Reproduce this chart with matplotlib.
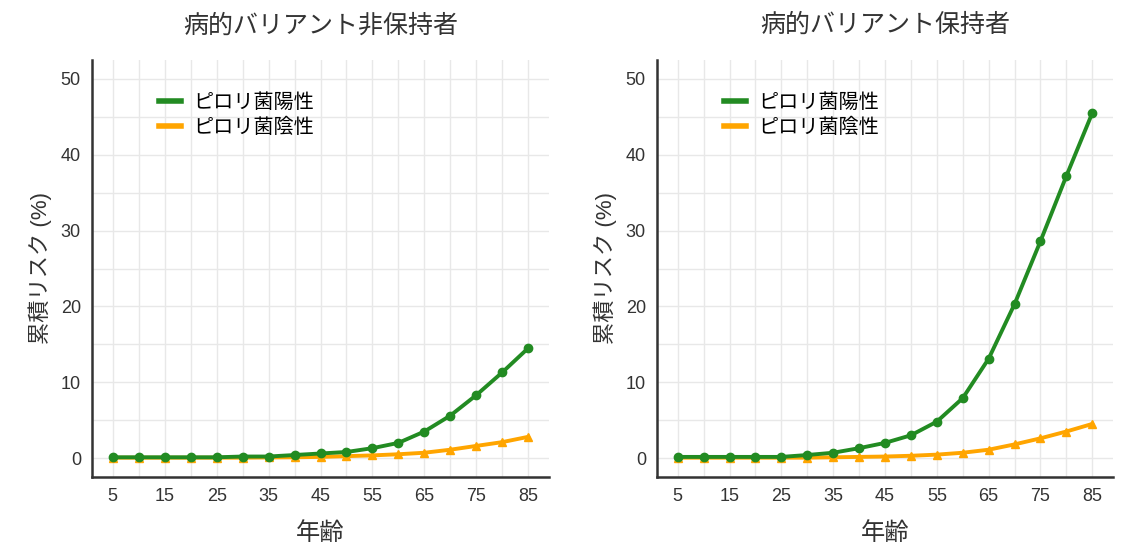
import matplotlib
matplotlib.use("Agg")
import matplotlib.pyplot as plt
from matplotlib.lines import Line2D
from matplotlib.ticker import MultipleLocator

# Latin text from Liberation Sans, Japanese falls through to Noto CJK.
plt.rcParams['font.family'] = ['Liberation Sans', 'Noto Sans CJK JP', 'DejaVu Sans']

# Data.
ages = [5, 10, 15, 20, 25, 30, 35, 40, 45, 50, 55, 60, 65, 70, 75, 80, 85]

# Non-carriers
noncarrier_hp_pos = [0.1, 0.1, 0.1, 0.1, 0.1, 0.2, 0.2, 0.4, 0.6, 0.8, 1.3, 2.0, 3.5, 5.6, 8.3, 11.3, 14.5]
noncarrier_hp_neg = [0.05, 0.05, 0.05, 0.05, 0.05, 0.05, 0.08, 0.1, 0.15, 0.25, 0.35, 0.5, 0.7, 1.1, 1.6, 2.1, 2.8]

# Carriers
carrier_hp_pos = [0.15, 0.15, 0.15, 0.15, 0.15, 0.4, 0.7, 1.3, 2.0, 3.0, 4.8, 7.9, 13.1, 20.3, 28.6, 37.2, 45.5]
carrier_hp_neg = [0.05, 0.05, 0.05, 0.05, 0.05, 0.05, 0.1, 0.15, 0.2, 0.3, 0.45, 0.7, 1.1, 1.8, 2.6, 3.5, 4.5]

titles = ["病的バリアント非保持者", "病的バリアント保持者"]
labels = ["ピロリ菌陽性", "ピロリ菌陰性"]
xticks = [5, 15, 25, 35, 45, 55, 65, 75, 85]
yticks = [0, 10, 20, 30, 40, 50]

GREEN = "#228b22"
ORANGE = "#ffa500"
TEXT = "#333333"

fig = plt.figure(figsize=(11.28, 5.45), dpi=100)
fig.patch.set_facecolor("white")

axes = [fig.add_axes([92 / 1128, 1 - 477 / 545, 457 / 1128, 417 / 545]),
        fig.add_axes([657 / 1128, 1 - 477 / 545, 456 / 1128, 417 / 545])]

panels = [(noncarrier_hp_pos, noncarrier_hp_neg), (carrier_hp_pos, carrier_hp_neg)]

for ax, title, (pos, neg) in zip(axes, titles, panels):
    ax.plot(ages, neg, color=ORANGE, linewidth=2.8, marker="^", markersize=6, zorder=3)
    ax.plot(ages, pos, color=GREEN, linewidth=2.8, marker="o", markersize=6, zorder=4)

    ax.set_xlim(1, 89)
    ax.set_ylim(-2.5, 52.5)
    ax.set_xticks(xticks)
    ax.set_yticks(yticks)
    ax.xaxis.set_minor_locator(MultipleLocator(5))
    ax.yaxis.set_minor_locator(MultipleLocator(5))
    ax.grid(True, which="both", color="#e8e8e8", linewidth=1.0, zorder=0)
    ax.set_axisbelow(True)
    ax.tick_params(which="both", length=0, labelsize=13, colors=TEXT, pad=8)

    for side in ["top", "right"]:
        ax.spines[side].set_visible(False)
    for side in ["left", "bottom"]:
        ax.spines[side].set_color("#333333")
        ax.spines[side].set_linewidth(1.8)

    ax.set_title(title, fontsize=18, color=TEXT, pad=20)
    ax.set_xlabel("年齢", fontsize=17.5, color=TEXT, labelpad=12)
    ax.set_ylabel("累積リスク (%)", fontsize=16, color=TEXT, labelpad=6)

    handles = [Line2D([0], [0], color=GREEN, linewidth=4),
               Line2D([0], [0], color=ORANGE, linewidth=4)]
    ax.legend(handles, labels, loc="upper left", bbox_to_anchor=(0.115, 0.955),
              frameon=False, fontsize=14.5, handlelength=1.1, labelspacing=0.3,
              handletextpad=0.6, borderaxespad=0.3)

plt.savefig("out.png", dpi=100, facecolor=fig.get_facecolor())
